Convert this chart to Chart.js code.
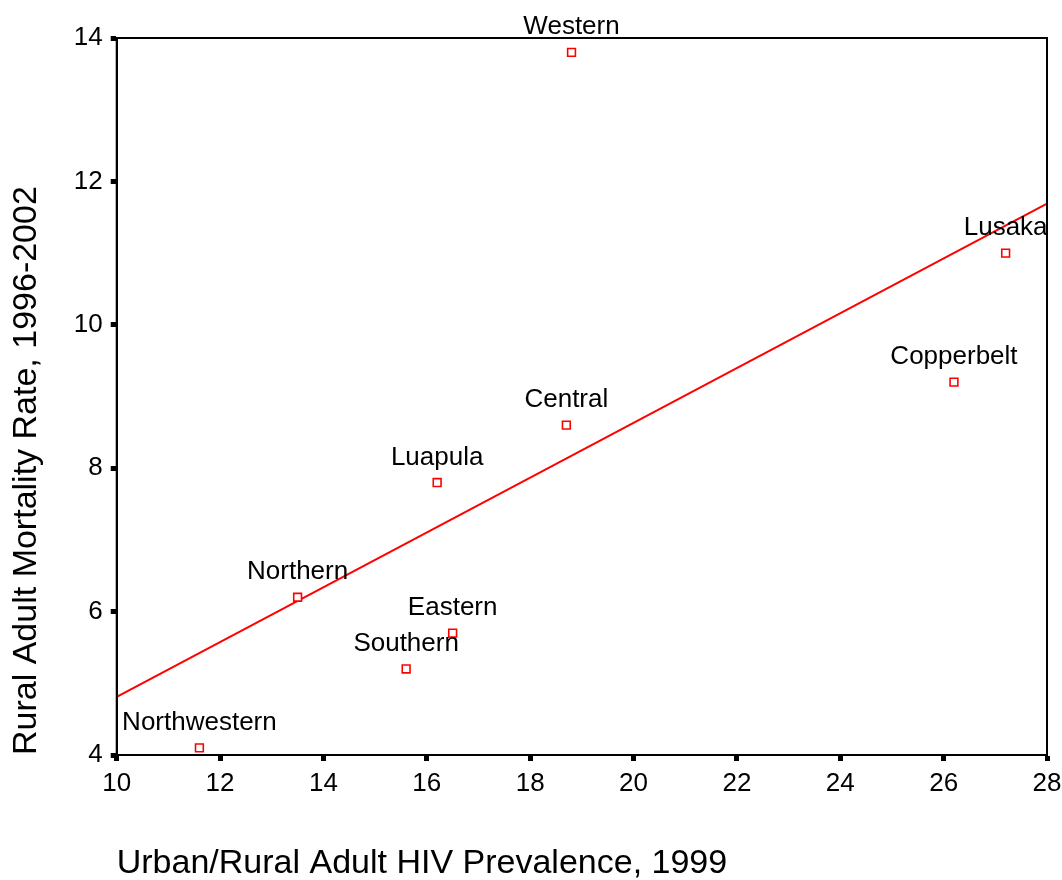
<!DOCTYPE html>
<html>
<head>
<meta charset="utf-8">
<script src="https://cdn.jsdelivr.net/npm/chart.js@4"></script>
<style>
  body { margin: 0; background: #fff; overflow: hidden; }
  #wrap { width: 1062px; height: 880px; }
</style>
</head>
<body>
<div id="wrap"><canvas id="scatter"></canvas></div>
<script>
// provinces, urban/rural HIV prevalence (x) and rural adult mortality (y)
let provinces = ['Northwestern', 'Northern', 'Southern', 'Eastern', 'Luapula', 'Central', 'Western', 'Copperbelt', 'Lusaka'];
let hivPrev = [11.6, 13.5, 15.6, 16.5, 16.2, 18.7, 18.8, 26.2, 27.2];
let mortality = [4.1, 6.2, 5.2, 5.7, 7.8, 8.6, 13.8, 9.2, 11.0];

// fitted line end points
let fitX = [10, 28];
let fitY = [4.81, 11.69];

let xTicks = [10, 12, 14, 16, 18, 20, 22, 24, 26, 28];
let yTicks = [4, 6, 8, 10, 12, 14];

let fontFamily = 'Arial, "Liberation Sans", sans-serif';

let points = provinces.map((p, i) => ({ x: hivPrev[i], y: mortality[i], name: p }));
let fitLine = fitX.map((x, i) => ({ x: x, y: fitY[i] }));

// draws the province names and the frame round the plot
let labelPlugin = {
  id: 'labels',
  afterDatasetsDraw(chart) {
    let ctx = chart.ctx;
    let meta = chart.getDatasetMeta(1);
    ctx.save();
    ctx.font = '26px ' + fontFamily;
    ctx.fillStyle = '#000';
    ctx.textAlign = 'center';
    ctx.textBaseline = 'alphabetic';
    meta.data.forEach((pt, i) => {
      ctx.fillText(points[i].name, pt.x, pt.y - 18);
    });
    let a = chart.chartArea;
    ctx.strokeStyle = '#000';
    ctx.lineWidth = 2;
    ctx.strokeRect(a.left, a.top, a.right - a.left, a.bottom - a.top);
    ctx.restore();
  }
};

new Chart(document.getElementById('scatter'), {
  type: 'scatter',
  data: {
    datasets: [
      {
        type: 'line',
        data: fitLine,
        borderColor: 'rgb(255, 0, 0)',
        borderWidth: 2,
        pointRadius: 0,
        fill: false,
        order: 2,
      },
      {
        data: points,
        pointStyle: 'rect',
        pointRadius: 5.5,
        pointBackgroundColor: '#fff',
        pointBorderColor: 'rgb(255, 0, 0)',
        pointBorderWidth: 1.6,
        order: 1,
      },
    ],
  },
  options: {
    responsive: true,
    maintainAspectRatio: false,
    animation: false,
    layout: { padding: { top: 38, right: 15, left: 6, bottom: -4 } },
    plugins: {
      legend: { display: false },
      tooltip: { enabled: false },
    },
    scales: {
      x: {
        type: 'linear',
        min: 10,
        max: 28,
        afterBuildTicks: (axis) => { axis.ticks = xTicks.map(v => ({ value: v })); },
        afterFit: (axis) => { axis.paddingRight = 0; axis.paddingLeft = 0; },
        border: { display: true, color: '#000', width: 2 },
        grid: { drawOnChartArea: false, drawTicks: true, tickLength: 6, tickWidth: 5, tickColor: '#000' },
        ticks: { color: '#000', font: { size: 26, family: fontFamily }, padding: 7, maxRotation: 0 },
        title: {
          display: true,
          text: 'Urban/Rural Adult HIV Prevalence, 1999',
          align: 'start',
          color: '#000',
          font: { size: 34, family: fontFamily },
          padding: { top: 37, bottom: 0 },
        },
      },
      y: {
        type: 'linear',
        min: 4,
        max: 14,
        afterBuildTicks: (axis) => { axis.ticks = yTicks.map(v => ({ value: v })); },
        border: { display: true, color: '#000', width: 2 },
        grid: { drawOnChartArea: false, drawTicks: true, tickLength: 6, tickWidth: 5, tickColor: '#000' },
        ticks: { color: '#000', font: { size: 26, family: fontFamily }, padding: 8 },
        title: {
          display: true,
          text: 'Rural Adult Mortality Rate, 1996-2002',
          align: 'start',
          color: '#000',
          font: { size: 34, family: fontFamily },
          padding: { top: 0, bottom: 19 },
        },
      },
    },
  },
  plugins: [labelPlugin],
});
</script>
</body>
</html>
